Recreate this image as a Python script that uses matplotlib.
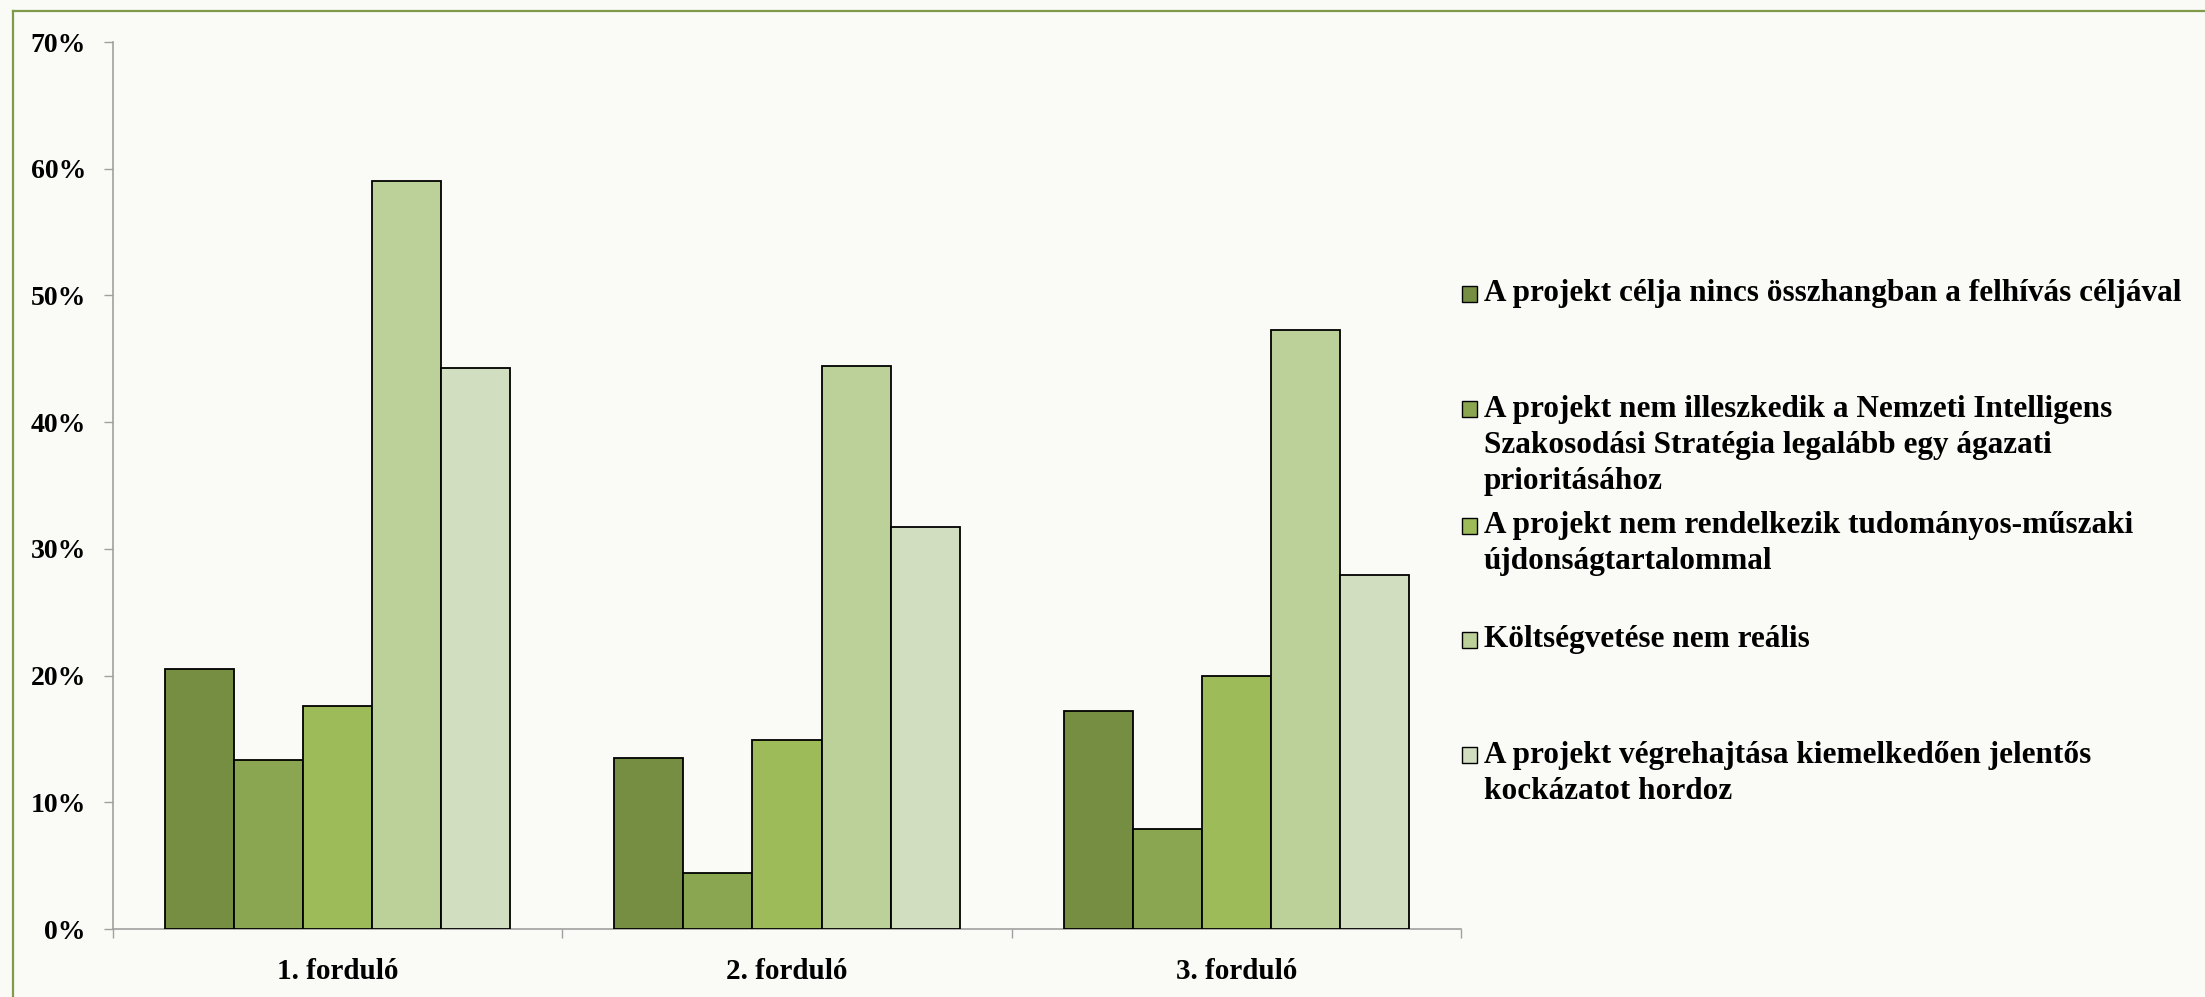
import numpy as np
import matplotlib.pyplot as plt
from matplotlib.lines import Line2D
from matplotlib.patches import Rectangle

rounds = ["1. forduló", "2. forduló", "3. forduló"]
reasons = [
    "A projekt célja nincs összhangban a felhívás céljával",
    "A projekt nem illeszkedik a Nemzeti Intelligens\nSzakosodási Stratégia legalább egy ágazati\nprioritásához",
    "A projekt nem rendelkezik tudományos-műszaki\nújdonságtartalommal",
    "Költségvetése nem reális",
    "A projekt végrehajtása kiemelkedően jelentős\nkockázatot hordoz",
]
# share of rejected projects per reason, one list per reason (values for rounds 1-3)
cel = [20.5, 13.5, 17.2]
nis = [13.3, 4.4, 7.9]
ujdonsag = [17.6, 14.9, 20.0]
koltseg = [59.0, 44.4, 47.3]
kockazat = [44.3, 31.7, 27.9]
series = [cel, nis, ujdonsag, koltseg, kockazat]

colors = ['#768E41', '#8BA650', '#9DBB59', '#BCD09A', '#D2DEC0']
bg = '#FAFBF6'

plt.rcParams['font.family'] = ['Liberation Serif', 'DejaVu Serif']
plt.rcParams['font.weight'] = 'bold'

W, H = 2205, 997
fig = plt.figure(figsize=(W / 100, H / 100), dpi=100, facecolor=bg)
ax = fig.add_axes([113 / W, 1 - 929 / H, (1461 - 113) / W, (929 - 42) / H])
ax.set_facecolor(bg)

n = len(series)
bw = 1 / (n + 1.5)
x = np.arange(len(rounds))
for i, vals in enumerate(series):
    ax.bar(x - 2.5 * bw + (i + 0.5) * bw, vals, width=bw, color=colors[i],
           edgecolor='black', linewidth=1.3, zorder=3)

ax.set_xlim(-0.5, len(rounds) - 0.5)
ax.set_ylim(0, 70)
ax.set_yticks(np.arange(0, 71, 10))
ax.set_yticklabels([f"{v}%" for v in range(0, 71, 10)])
ax.set_xticks(x)
ax.set_xticklabels(rounds)
ax.set_xticks(np.arange(-0.5, len(rounds), 1), minor=True)
ax.tick_params(axis='x', which='major', length=0, pad=21, labelsize=21)
ax.tick_params(axis='x', which='minor', length=6.5, color='#A0A0A0', width=1)
ax.tick_params(axis='y', length=6.5, color='#A0A0A0', width=1, pad=13, labelsize=20)
for s in ['top', 'right']:
    ax.spines[s].set_visible(False)
for s in ['left', 'bottom']:
    ax.spines[s].set_color('#A0A0A0')
    ax.spines[s].set_linewidth(1.2)

# border (top and left visible)
fig.add_artist(Line2D([13 / W, 13 / W], [0, 1 - 11 / H], color='#7F9A48', lw=1.6))
fig.add_artist(Line2D([13 / W, 1], [1 - 11 / H, 1 - 11 / H], color='#7F9A48', lw=1.6))

# legend
first_line_y = [294, 409, 526, 640, 755]
line_h = 36
for i, label in enumerate(reasons):
    y0 = first_line_y[i]
    fig.add_artist(Rectangle((1462 / W, 1 - (y0 + 8) / H), 15 / W, 16 / H,
                             facecolor=colors[i], edgecolor='black', lw=1,
                             transform=fig.transFigure))
    for k, line in enumerate(label.split('\n')):
        fig.text(1484 / W, 1 - (y0 + k * line_h) / H, line, fontsize=22.5,
                 fontweight='bold', va='center', ha='left')

fig.savefig('out.png', dpi=100, facecolor=bg)
